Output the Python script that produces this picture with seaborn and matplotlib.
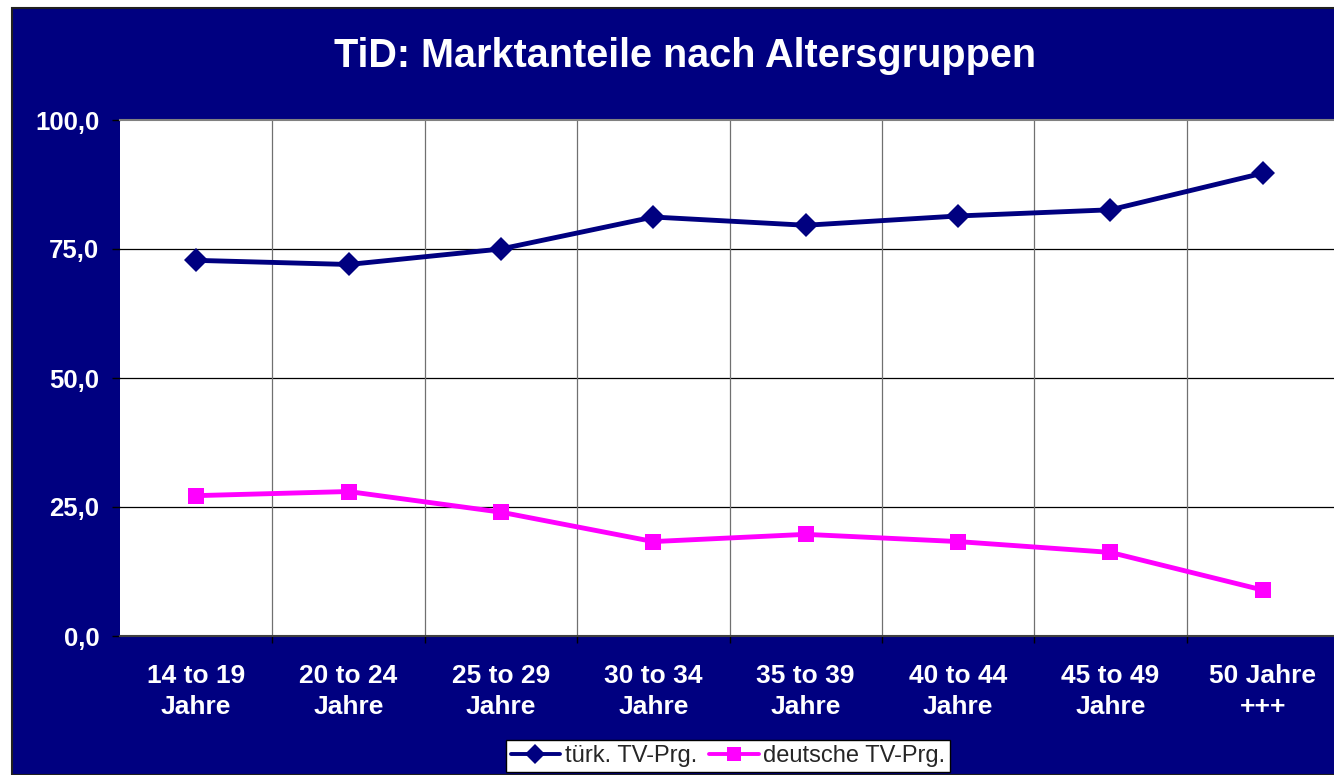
import seaborn as sns
import pandas as pd
import matplotlib.pyplot as plt
from matplotlib.patches import Rectangle

# Data
categories = ["14 to 19\nJahre", "20 to 24\nJahre", "25 to 29\nJahre", "30 to 34\nJahre",
              "35 to 39\nJahre", "40 to 44\nJahre", "45 to 49\nJahre", "50 Jahre\n+++"]
tuerk = [72.8, 72.0, 75.0, 81.2, 79.6, 81.4, 82.6, 89.7]
deutsch = [27.2, 28.0, 24.0, 18.3, 19.7, 18.3, 16.2, 8.9]
yticks = [0, 25, 50, 75, 100]
ytick_labels = ["0,0", "25,0", "50,0", "75,0", "100,0"]

navy = "#000080"
pink = "#FF00FF"

df = pd.DataFrame({"pos": list(range(len(categories))) * 2,
                   "value": tuerk + deutsch,
                   "series": ["türk. TV-Prg."] * len(tuerk) + ["deutsche TV-Prg."] * len(deutsch)})

sns.set_style("white")
plt.rcParams["font.family"] = ["Liberation Sans", "DejaVu Sans"]

W, H = 1334, 775
fig = plt.figure(figsize=(W / 100, H / 100), dpi=100, facecolor="white")
# navy chart area with thin dark border
fig.patches.append(Rectangle((12 / W, 0), 1, 1 - 8 / H, transform=fig.transFigure,
                             facecolor=navy, edgecolor="#202020", linewidth=1.5, zorder=-5))

ax = fig.add_axes([120 / W, 1 - 636 / H, (1339 - 120) / W, (636 - 120) / H])
ax.set_facecolor("white")

sns.lineplot(data=df, x="pos", y="value", hue="series", style="series",
             palette={"türk. TV-Prg.": navy, "deutsche TV-Prg.": pink},
             markers={"türk. TV-Prg.": "D", "deutsche TV-Prg.": "s"},
             dashes=False, linewidth=3.5, markersize=12, markeredgewidth=0,
             ax=ax, zorder=5, clip_on=False)

ax.set_xlim(-0.5, len(categories) - 0.5)
ax.set_ylim(0, 100)
ax.set_yticks(yticks)
ax.set_yticklabels(ytick_labels)
ax.set_xticks(range(len(categories)))
ax.set_xticklabels(categories, linespacing=1.35)
ax.set_xticks([i + 0.5 for i in range(len(categories) - 1)], minor=True)
ax.set_xlabel("")
ax.set_ylabel("")

for y in [25, 50, 75]:
    ax.axhline(y, color="black", linewidth=0.9, zorder=1)
for x in range(len(categories) - 1):
    ax.axvline(x + 0.5, color="#707070", linewidth=0.9, zorder=1)

ax.spines["right"].set_visible(False)
ax.spines["left"].set_visible(False)
ax.spines["top"].set_color("#808080")
ax.spines["top"].set_linewidth(1.5)
ax.spines["bottom"].set_color("#404040")
ax.spines["bottom"].set_linewidth(1.5)

ax.tick_params(axis="y", which="major", left=True, length=6, width=1, color="black",
               labelsize=18.5, labelcolor="white", pad=9)
ax.tick_params(axis="x", which="major", bottom=False, labelsize=19, labelcolor="white", pad=17)
ax.tick_params(axis="x", which="minor", bottom=True, length=5, width=1, color="black")
for lbl in ax.get_xticklabels() + ax.get_yticklabels():
    lbl.set_fontweight("bold")

fig.text(685 / W, 1 - 56 / H, "TiD: Marktanteile nach Altersgruppen", color="white",
         fontsize=28.5, fontweight="bold", ha="center", va="center")

handles, labels = ax.get_legend_handles_labels()
for h in handles:
    h.set_linewidth(2.8)
leg = ax.legend(handles, labels, loc="center", bbox_to_anchor=(728 / W, 1 - 756 / H),
                bbox_transform=fig.transFigure, ncol=2, frameon=True, fancybox=False,
                fontsize=17, handlelength=2.1, handletextpad=0.2, columnspacing=0.5,
                borderpad=0.2, borderaxespad=0, markerscale=0.85)
leg.get_frame().set_edgecolor("black")
leg.get_frame().set_facecolor("white")
leg.get_frame().set_alpha(1)
leg.get_frame().set_linewidth(1)

fig.savefig("out.png", dpi=100, facecolor=fig.get_facecolor())
